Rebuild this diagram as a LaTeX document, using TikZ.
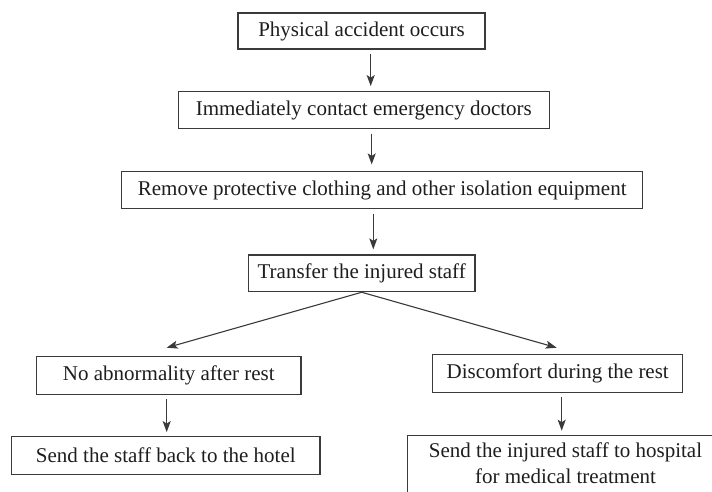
\documentclass[tikz,border=0pt]{standalone}
\usepackage{fontspec}
\setmainfont{Liberation Serif}
\usetikzlibrary{arrows.meta,calc}
\definecolor{ln}{HTML}{3A3A3A}
\definecolor{tx}{HTML}{1E1E1E}
\begin{document}
\begin{tikzpicture}[x=1pt,y=-1pt,
  box/.style={draw=ln,line width=1.2pt,inner sep=0pt,text=tx,
    font=\fontsize{21}{26}\selectfont},
  arr/.style={draw=ln,line width=1.1pt,-{Stealth[length=11pt,width=8pt,inset=2.5pt]}}]
\useasboundingbox[fill=white] (0,0) rectangle (712,491);
\clip (0,0) rectangle (712,491);
\node[box,minimum width=247,minimum height=36] (b1) at (361.5,31) {Physical accident occurs};
\node[box,minimum width=371,minimum height=36.6] (b2) at (363.8,110) {Immediately contact emergency doctors};
\node[box,minimum width=521,minimum height=36.6] (b3) at (382.2,190) {Remove protective clothing and other isolation equipment};
\node[box,minimum width=226.7,minimum height=36.7] (b4) at (361.7,273.3) {Transfer the injured staff};
\node[box,minimum width=264.3,minimum height=37.6] (b5) at (168.8,375.5) {No abnormality after rest};
\node[box,minimum width=308.3,minimum height=37.6] (b6) at (165.8,455.5) {Send the staff back to the hotel};
\node[box,minimum width=250,minimum height=38] (b7) at (557.7,373.3) {Discomfort during the rest};
\node[box,draw=none,anchor=north,minimum width=315,minimum height=53,align=center] (b8) at (565.5,435.7)
  {Send the injured staff to hospital\\for medical treatment};
\draw[ln,line width=1.2pt] ($(b8.south west)+(0,30)$) -- (b8.north west) -- (b8.north east) -- ($(b8.south east)+(0,30)$);
\draw[arr] ($(b1.south)+(9.2,4.5)$) -- ($(b2.north)+(6.9,-5)$);
\draw[arr] ($(b2.south)+(7.9,4.7)$) -- ($(b3.north)+(-10.5,-6.7)$);
\draw[arr] ($(b3.south)+(-8.9,4.7)$) -- ($(b4.north)+(11.6,-5)$);
\draw[arr] (b4.south) -- ($(b5.north)+(-2.1,-8.4)$);
\draw[arr] (b4.south) -- ($(b7.north)+(-1,-6)$);
\draw[arr] ($(b5.south)+(-2.1,4)$) -- ($(b6.north)+(0.9,-4)$);
\draw[arr] ($(b7.south)+(4,3.7)$) -- ($(b8.north)+(-3.8,-5)$);
\end{tikzpicture}
\end{document}
